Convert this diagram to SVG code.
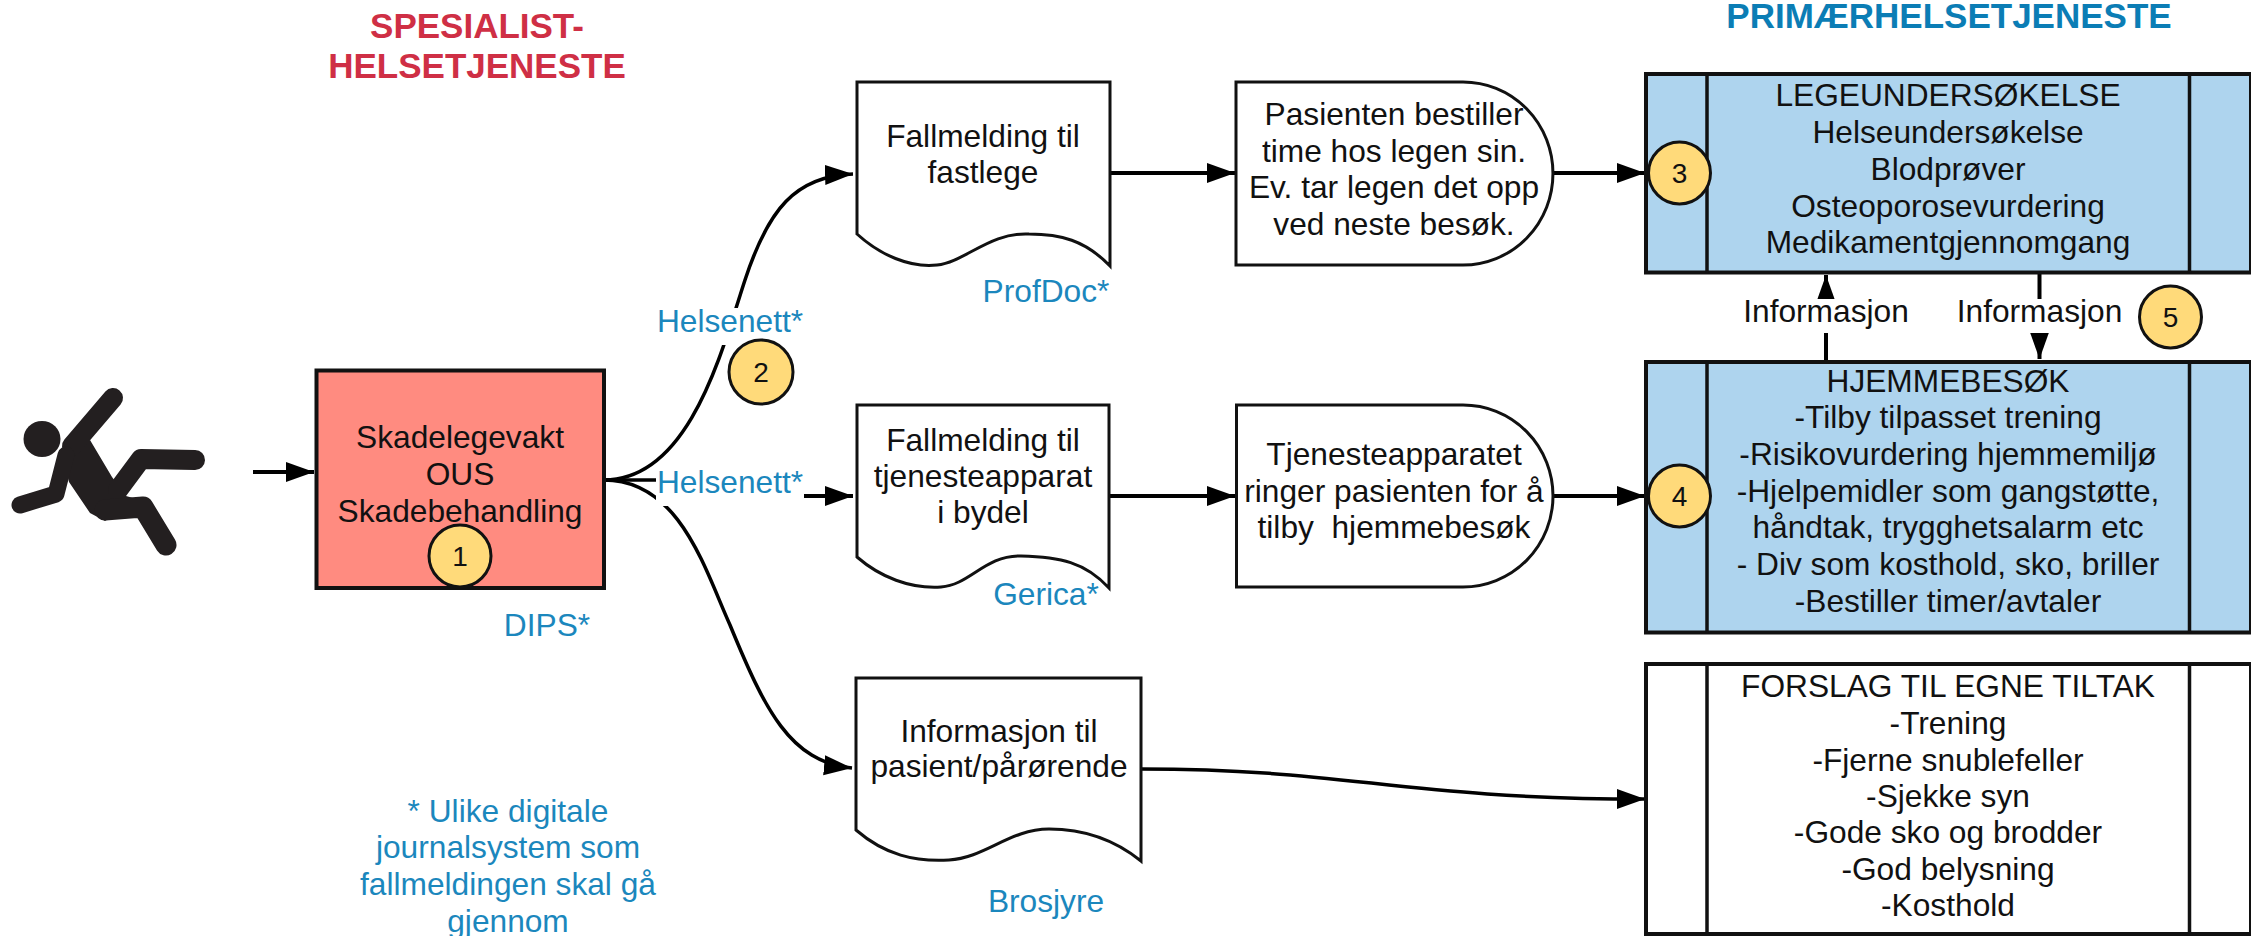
<svg xmlns="http://www.w3.org/2000/svg" width="2251" height="936" viewBox="0 0 2251 936">
<style>
text{font-family:"Liberation Sans",Arial,sans-serif;font-size:31.700px;fill:#111;text-anchor:middle}
.blue{fill:#1b87bd}
.hd{font-weight:bold;font-size:35px}
.num{font-size:28px}
.shape{fill:#fff;stroke:#111;stroke-width:3}
.lane{stroke:#111;stroke-width:4}
.div{fill:none;stroke:#111;stroke-width:3.5}
.b{fill:#aed4ee}
.w{fill:#fff}
.badge{fill:#ffda7a;stroke:#111;stroke-width:3}
.c{fill:none;stroke:#000;stroke-width:4}
.t{fill:none;stroke:#000;stroke-width:3.5}
.bg{fill:#fff;stroke:none}
.limb{fill:none;stroke:#231f20;stroke-linecap:round;stroke-linejoin:round}
</style>
<defs>
<marker id="a" markerUnits="userSpaceOnUse" markerWidth="30" markerHeight="22" refX="28" refY="10" orient="auto"><path d="M0 0L28 10L0 20Z" fill="#000"/></marker>
</defs>
<g id="connectors">
<path class="c" marker-end="url(#a)" d="M253 472H314"/>
<path class="t" d="M604 480C690 480 722 350 745 280C768 210 795 176 853 174" marker-end="url(#a)"/>
<path class="t" d="M604 480C680 480 705 570 730 625C765 710 790 762 852 768" marker-end="url(#a)"/>
<path class="t" d="M604 480H660"/>
<path class="c" d="M803 496H853" marker-end="url(#a)"/>
<path class="c" d="M1110 173H1235" marker-end="url(#a)"/>
<path class="c" d="M1553 173H1645" marker-end="url(#a)"/>
<path class="c" d="M1110 496H1235" marker-end="url(#a)"/>
<path class="c" d="M1553 496H1645" marker-end="url(#a)"/>
<path class="t" d="M1141 769C1350 769 1400 799 1645 799" marker-end="url(#a)"/>
<path class="c" d="M1826 361V275" marker-end="url(#a)"/>
<path class="c" d="M2039.500 273V359" marker-end="url(#a)"/>
</g>
<g id="faller">
<ellipse cx="42" cy="439" rx="18.500" ry="18" fill="#231f20"/>
<path fill="#231f20" d="M90 440L112 477L126 496L140 500L105 521L90 513L69 482L61 450Z"/>
<path class="limb" stroke-width="20" d="M72 446L113 398"/>
<path class="limb" stroke-width="17" d="M20 505L56 494L66 455"/>
<path class="limb" stroke-width="20" d="M118 490L141 459L195 460"/>
<path class="limb" stroke-width="21" d="M105 510L143 507L166 545"/>
</g>
<g id="header-spesialist"><text class="hd" style="fill:#cf2f45"><tspan x="477" y="38">SPESIALIST-</tspan><tspan x="477" y="78">HELSETJENESTE</tspan></text></g>
<g id="header-primaer"><text class="hd" style="fill:#0b7db5" x="1949" y="28">PRIMÆRHELSETJENESTE</text></g>
<g id="skadelegevakt">
<rect x="316.500" y="370.500" width="287.500" height="217.500" fill="#ff8b80" stroke="#111" stroke-width="4"/>
<text><tspan x="460" y="448">Skadelegevakt</tspan><tspan x="460" y="485">OUS</tspan><tspan x="460" y="522">Skadebehandling</tspan></text>
<circle class="badge" cx="460" cy="556" r="31"/><text class="num" x="460" y="566">1</text>
</g>
<g id="dips"><text class="blue" x="547" y="636">DIPS*</text></g>
<g id="helsenett-1"><rect class="bg" x="656" y="308" width="148" height="37"/><text class="blue" x="730" y="332">Helsenett*</text></g>
<g id="badge-2"><circle class="badge" cx="761" cy="372" r="32"/><text class="num" x="761" y="382">2</text></g>
<g id="helsenett-2"><rect class="bg" x="656" y="464" width="148" height="42"/><text class="blue" x="730" y="493">Helsenett*</text></g>
<g id="doc-fastlege">
<path class="shape" d="M857 82H1110V266C1085 240 1060 234 1029 234C990 232 965 262 937 265C910 268 880 255 857 234Z"/>
<text><tspan x="983" y="147">Fallmelding til</tspan><tspan x="983" y="183">fastlege</tspan></text>
</g>
<g id="profdoc"><text class="blue" x="1046" y="302">ProfDoc*</text></g>
<g id="delay-time">
<path class="shape" d="M1236 82H1463A90 91.500 0 0 1 1463 265H1236Z"/>
<text><tspan x="1394" y="125">Pasienten bestiller</tspan><tspan x="1394" y="162">time hos legen sin.</tspan><tspan x="1394" y="198">Ev. tar legen det opp</tspan><tspan x="1394" y="235">ved neste besøk.</tspan></text>
</g>
<g id="doc-bydel">
<path class="shape" d="M857 405H1109V588C1085 562 1060 557 1021 556C985 555 970 585 941 587C910 589 880 577 857 557Z"/>
<text><tspan x="983" y="451">Fallmelding til</tspan><tspan x="983" y="487">tjenesteapparat</tspan><tspan x="983" y="523">i bydel</tspan></text>
</g>
<g id="gerica"><text class="blue" x="1046" y="605">Gerica*</text></g>
<g id="delay-tjeneste">
<path class="shape" d="M1236.500 405H1463A90 91 0 0 1 1463 587H1236.500Z"/>
<text><tspan x="1394" y="465">Tjenesteapparatet</tspan><tspan x="1394" y="502">ringer pasienten for å</tspan><tspan x="1394" y="538" xml:space="preserve">tilby  hjemmebesøk</tspan></text>
</g>
<g id="doc-info">
<path class="shape" d="M856 678H1141V861C1115 840 1085 829 1049 829C1010 829 985 858 949 860C915 862 885 855 856 830Z"/>
<text><tspan x="999" y="742">Informasjon til</tspan><tspan x="999" y="777">pasient/pårørende</tspan></text>
</g>
<g id="brosjyre"><text class="blue" x="1046" y="912">Brosjyre</text></g>
<g id="note"><text class="blue"><tspan x="508" y="822">* Ulike digitale</tspan><tspan x="508" y="858">journalsystem som</tspan><tspan x="508" y="895">fallmeldingen skal gå</tspan><tspan x="508" y="932">gjennom</tspan></text></g>
<g id="legeundersokelse">
<rect class="lane b" x="1646" y="74" width="605" height="198.500"/>
<path class="div" d="M1707 74V272.500M2189.500 74V272.500"/>
<text><tspan x="1948" y="106">LEGEUNDERSØKELSE</tspan><tspan x="1948" y="143">Helseundersøkelse</tspan><tspan x="1948" y="180">Blodprøver</tspan><tspan x="1948" y="217">Osteoporosevurdering</tspan><tspan x="1948" y="253">Medikamentgjennomgang</tspan></text>
<circle class="badge" cx="1679.500" cy="173" r="31"/><text class="num" x="1679.500" y="183">3</text>
</g>
<g id="info-1"><rect class="bg" x="1742" y="299" width="168" height="34"/><text x="1826" y="322">Informasjon</text></g>
<g id="info-2"><rect class="bg" x="1955" y="299" width="168" height="34"/><text x="2039.500" y="322">Informasjon</text></g>
<g id="badge-5"><circle class="badge" cx="2170.500" cy="317" r="31"/><text class="num" x="2170.500" y="327">5</text></g>
<g id="hjemmebesok">
<rect class="lane b" x="1646" y="362" width="605" height="270.500"/>
<path class="div" d="M1707 362V632.500M2189.500 362V632.500"/>
<text><tspan x="1948" y="392">HJEMMEBESØK</tspan><tspan x="1948" y="428">-Tilby tilpasset trening</tspan><tspan x="1948" y="465">-Risikovurdering hjemmemiljø</tspan><tspan x="1948" y="502">-Hjelpemidler som gangstøtte,</tspan><tspan x="1948" y="538">håndtak, trygghetsalarm etc</tspan><tspan x="1948" y="575">- Div som kosthold, sko, briller</tspan><tspan x="1948" y="612">-Bestiller timer/avtaler</tspan></text>
<circle class="badge" cx="1679.500" cy="496" r="31"/><text class="num" x="1679.500" y="506">4</text>
</g>
<g id="egne-tiltak">
<rect class="lane w" x="1646" y="664" width="605" height="270"/>
<path class="div" d="M1707 664V934M2189.500 664V934"/>
<text><tspan x="1948" y="697">FORSLAG TIL EGNE TILTAK</tspan><tspan x="1948" y="734">-Trening</tspan><tspan x="1948" y="771">-Fjerne snublefeller</tspan><tspan x="1948" y="807">-Sjekke syn</tspan><tspan x="1948" y="843">-Gode sko og brodder</tspan><tspan x="1948" y="880">-God belysning</tspan><tspan x="1948" y="916">-Kosthold</tspan></text>
</g>
</svg>
